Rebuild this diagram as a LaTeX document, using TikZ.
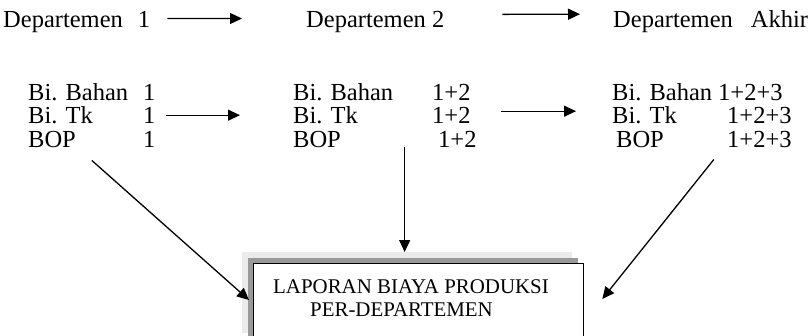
\documentclass[tikz,border=0pt]{standalone}
\usepackage{fontspec}
\setmainfont{Liberation Serif}
\usetikzlibrary{arrows.meta,shadows}

\tikzset{
  teks/.style={inner sep=0pt, anchor=base west, font=\fontsize{24.5}{26}\selectfont},
  judul/.style={inner sep=0pt, anchor=base west, font=\fontsize{20.9}{23}\selectfont},
  panah/.style={line width=1.3pt, -{Triangle[length=12pt,width=11pt]}},
}
% kolom label dengan lebar tetap
\newcommand{\lbl}[2]{\makebox[#1][l]{#2}}

\begin{document}
\begin{tikzpicture}[x=1pt, y=-1pt, line join=round]
  \useasboundingbox (0,0) rectangle (812,335);

  % Judul tiap departemen
  \node[teks] (dep1) at (3,27) {Departemen\hspace{15pt}1};
  \node[teks] (dep2) at (306,27) {Departemen 2};
  \node[teks] (dep3) at (613,27) {Departemen\hspace{18pt}Akhir};

  % Rincian biaya departemen 1
  \node[teks] (bahan1) at (28,100)   {\lbl{115pt}{Bi. Bahan}1};
  \node[teks] (tk1)    at (28,123.5) {\lbl{115pt}{Bi. Tk}1};
  \node[teks] (bop1)   at (28,147)   {\lbl{115pt}{BOP}1};

  % Rincian biaya departemen 2
  \node[teks] (bahan2) at (293,100)   {\lbl{139pt}{Bi. Bahan}1+2};
  \node[teks] (tk2)    at (293,123.5) {\lbl{139pt}{Bi. Tk}1+2};
  \node[teks] (bop2)   at (293,147)   {\lbl{145pt}{BOP}1+2};

  % Rincian biaya departemen akhir
  \node[teks] (bahan3) at (612,100)   {\lbl{106pt}{Bi. Bahan}1+2+3};
  \node[teks] (tk3)    at (612,123.5) {\lbl{115pt}{Bi. Tk}1+2+3};
  \node[teks] (bop3)   at (612,147)   {\lbl{115pt}{\hspace*{4pt}BOP}1+2+3};

  % Aliran antar departemen
  \draw[panah, shorten <=17pt, shorten >=64pt] ([yshift=3pt]dep1.east) -- ([yshift=3pt]dep2.west);
  \draw[panah, shorten <=58pt, shorten >=33pt] ([yshift=7pt]dep2.east) -- ([yshift=7pt]dep3.west);
  \draw[panah, shorten <=10pt, shorten >=53pt] (tk1.east) -- (tk2.west);
  \draw[panah, shorten <=30pt, shorten >=36pt] ([yshift=4pt]tk2.east) -- ([yshift=4pt]tk3.west);

  % Kotak laporan dengan dua bayangan
  \node[draw, line width=1.3pt, fill=white, anchor=north west, inner sep=0pt,
        minimum width=330pt, minimum height=81pt,
        drop shadow={shadow xshift=-12pt, shadow yshift=12pt, fill=black!8, opacity=1},
        drop shadow={shadow xshift=-6pt, shadow yshift=6pt, fill=black!40, opacity=1}]
        (laporan) at (253,263) {};
  \node[judul] (judul1) at ([shift={(20,30)}]laporan.north west) {LAPORAN BIAYA PRODUKSI};
  \node[judul] (judul2) at ([shift={(57,53)}]laporan.north west) {PER-DEPARTEMEN};

  % Ujung panah menuju laporan
  \coordinate (masukKiri) at ([shift={(-4,37)}]laporan.north west);
  \coordinate (masukTengah) at ([shift={(-14,-11)}]laporan.north);
  \coordinate (masukKanan) at ([shift={(18,36)}]laporan.north east);
  \coordinate (keluarTengah) at (masukTengah |- bop2.base);

  \draw[panah] ([shift={(0,13)}]bop1.south) -- (masukKiri);
  \draw[panah] (keluarTengah) -- (masukTengah);
  \draw[panah] ([shift={(12,12)}]bop3.south) -- (masukKanan);
\end{tikzpicture}
\end{document}
